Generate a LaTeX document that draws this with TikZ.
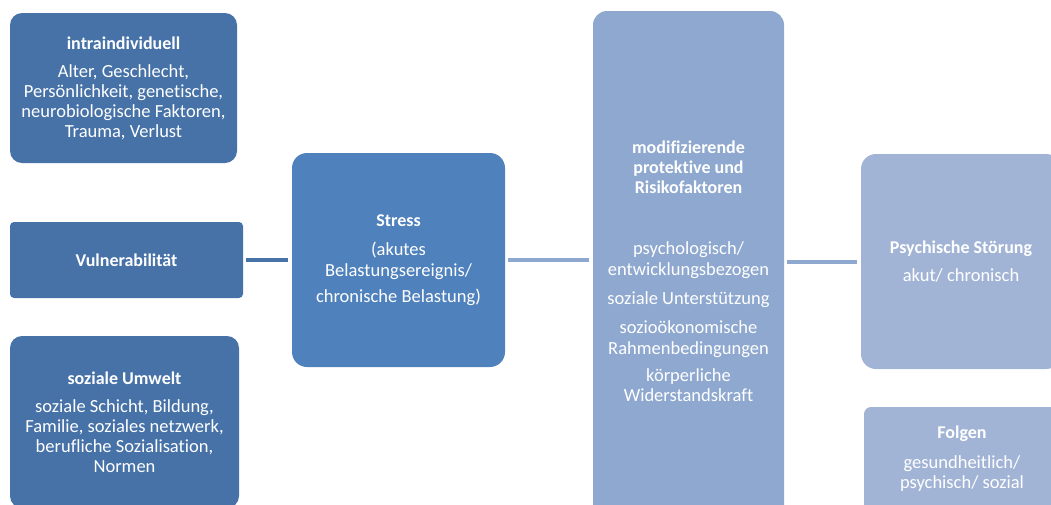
\documentclass[tikz,border=0pt]{standalone}
\usepackage{fontspec}
\setmainfont[Ligatures=NoCommon]{Carlito}
\definecolor{cDark}{HTML}{4672A8}
\definecolor{cMid}{HTML}{4F81BD}
\definecolor{cLight}{HTML}{8EA8CF}
\definecolor{cPale}{HTML}{A2B4D6}
\newcommand{\ttlfont}{\normalfont\bfseries\fontsize{18}{19}\selectfont}
\newcommand{\bdyfont}{\normalfont\fontsize{18.5}{20}\selectfont}
\begin{document}
\begin{tikzpicture}[x=1pt,y=-1pt,
  box/.style={draw=none,rounded corners=12pt,text=white,align=center,inner sep=0pt,font=\bdyfont},
  link/.style={line width=4pt,shorten <=3pt,shorten >=4pt}]
\useasboundingbox (0,0) rectangle (1051,504);
\clip (0,0) rectangle (1051,504);
\node[box,fill=cDark,minimum width=227pt,minimum height=150pt] (intra) at (123.5,88)
  {\ttlfont intraindividuell\\[8pt]\bdyfont Alter, Geschlecht,\\Persönlichkeit, genetische,\\neurobiologische Faktoren,\\Trauma, Verlust};
\node[box,fill=cDark,rounded corners=4pt,minimum width=233pt,minimum height=76pt] (vuln) at (126.5,260)
  {\ttlfont Vulnerabilität};
\node[box,fill=cDark,minimum width=229pt,minimum height=172pt] (sozial) at (124.5,422)
  {\ttlfont soziale Umwelt\\[8pt]\bdyfont soziale Schicht, Bildung,\\Familie, soziales netzwerk,\\berufliche Sozialisation,\\Normen};
\node[box,fill=cMid,rounded corners=15pt,minimum width=213pt,minimum height=214pt] (stress) at (398.5,260)
  {\ttlfont Stress\\[9pt]\bdyfont (akutes\\[1pt]Belastungsereignis/\\[6pt]chronische Belastung)};
\node[box,fill=cLight,rounded corners=14pt,minimum width=191pt,minimum height=520pt] (modif) at (688.5,271)
  {\ttlfont modifizierende\\\ttlfont protektive und\\\ttlfont Risikofaktoren\\[41pt]\bdyfont psychologisch/\\[1pt]entwicklungsbezogen\\[9pt]soziale Unterstützung\\[9pt]sozioökonomische\\[1pt]Rahmenbedingungen\\[7pt]körperliche\\Widerstandskraft};
\node[box,fill=cPale,rounded corners=15pt,minimum width=200pt,minimum height=215pt] (psych) at (961,261.5)
  {\ttlfont Psychische Störung\\[8pt]\bdyfont akut/ chronisch};
\node[box,fill=cPale,rounded corners=7pt,minimum width=196pt,minimum height=104pt] (folgen) at (962,459)
  {\ttlfont Folgen\\[10pt]\bdyfont gesundheitlich/\\psychisch/ sozial};
\draw[link,cDark] (vuln.east) -- (stress.west);
\draw[link,cLight] (stress.east) -- (stress.east -| modif.west);
\draw[link,cLight] (modif.east |- psych.west) -- (psych.west);
\end{tikzpicture}
\end{document}
